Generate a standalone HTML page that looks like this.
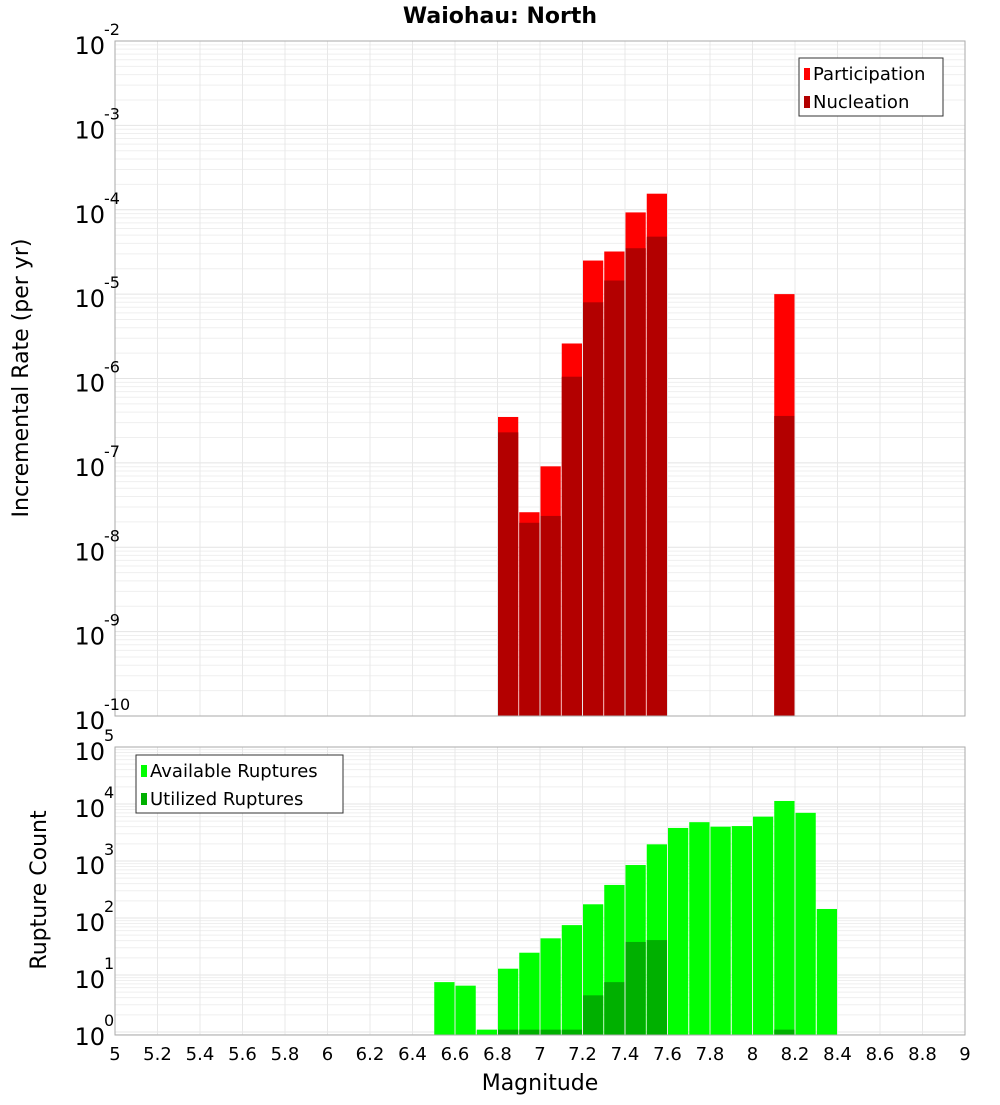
<!DOCTYPE html>
<html><head><meta charset="utf-8"><style>
body{margin:0;background:#fff;font-family:"Liberation Sans","DejaVu Sans",sans-serif}
svg text{font-family:"DejaVu Sans","Liberation Sans",sans-serif}
</style></head><body>
<svg id="c" width="1000" height="1100" xmlns="http://www.w3.org/2000/svg">
<text x="500" y="23" text-anchor="middle" font-size="22" font-weight="bold">Waiohau: North</text>
<text transform="translate(28,378) rotate(-90)" text-anchor="middle" font-size="22">Incremental Rate (per yr)</text>
<text transform="translate(46,890) rotate(-90)" text-anchor="middle" font-size="22">Rupture Count</text>
<text x="540" y="1090" text-anchor="middle" font-size="22">Magnitude</text>
<g id="g"></g>
</svg>
<script>
const topMags=[6.8,6.9,7.0,7.1,7.2,7.3,7.4,7.5,8.1];
const participation=[3.5e-7,2.6e-8,9.1e-8,2.6e-6,2.5e-5,3.2e-5,9.3e-5,1.55e-4,1.0e-5];
const nucleation=[2.3e-7,1.95e-8,2.35e-8,1.05e-6,8.0e-6,1.45e-5,3.5e-5,4.8e-5,3.6e-7];
const botMags=[6.5,6.6,6.7,6.8,6.9,7.0,7.1,7.2,7.3,7.4,7.5,7.6,7.7,7.8,7.9,8.0,8.1,8.2,8.3];
const available=[7.5,6.5,1.1,12.9,24.6,44,75,174,380,850,1960,3800,4800,4000,4100,6000,11300,7000,144];
const utilMags=[6.8,6.9,7.0,7.1,7.2,7.3,7.4,7.5,8.1];
const utilized=[1.1,1.1,1.1,1.1,4.4,7.5,38,41,1.1];
const xTicks=["5","5.2","5.4","5.6","5.8","6","6.2","6.4","6.6","6.8","7","7.2","7.4","7.6","7.8","8","8.2","8.4","8.6","8.8","9"];
const topExp=[-2,-3,-4,-5,-6,-7,-8,-9,-10];
const botExp=[5,4,3,2,1,0];

const NS="http://www.w3.org/2000/svg",G=document.getElementById('g');
function el(t,a){const e=document.createElementNS(NS,t);for(const k in a)e.setAttribute(k,a[k]);G.appendChild(e);return e;}
const X0=115,X1=965;
const xs=m=>X0+(m-5)*(X1-X0)/4;
const T0=41,T1=716;const yT=v=>T0+(-2-Math.log10(v))*(T1-T0)/8;
const B0=747,B1=1035;const yB=v=>1032-57*Math.log10(v);

function panel(top,bot,ys,exps,minLo,name){
  const bg=el('rect',{x:X0,y:top,width:X1-X0,height:bot-top,fill:'#fff'});
  
  
  for(const e of exps){for(let k=1;k<10;k++){const y=ys(k*Math.pow(10,e));if(y<top||y>bot)continue;
    const l=el('line',{x1:X0,x2:X1,y1:y,y2:y,stroke:k==1?'#e4e4e4':'#efefef','stroke-width':1});
    
    }}
  for(let i=0;i<xTicks.length;i++){const x=xs(+xTicks[i]);
    const l=el('line',{x1:x,x2:x,y1:top,y2:bot,stroke:'#e8e8e8'});
    
    }
}
function frame(top,bot,name){const r=el('rect',{x:X0,y:top,width:X1-X0,height:bot-top,fill:'none',stroke:'#aaa'});
  
  }
function bar(m,v,ys,top,bot,fill,name){let y=Math.max(ys(v),top);const x=xs(m);
  const r=el('rect',{x:x+0.5,y:y,width:(X1-X0)/40-1,height:bot-y,fill:fill});
  
  }
function ylab(y,e,name){const t=el('text',{x:105,y:y+13,'text-anchor':'end','font-size':24});
  t.textContent='10';
  const s=el('text',{x:104,y:y-6,'font-size':16});s.textContent=String(e);
  }

panel(T0,T1,yT,[-2,-3,-4,-5,-6,-7,-8,-9,-10],0,'top');
topMags.forEach((m,i)=>bar(m,participation[i],yT,T0,T1,'#ff0000','participation-bar-'+m));
topMags.forEach((m,i)=>bar(m,nucleation[i],yT,T0,T1,'#b30000','nucleation-bar-'+m));
frame(T0,T1,'top');
topExp.forEach(e=>ylab(yT(Math.pow(10,e)),e,'top-y-tick-'+e));

panel(B0,B1,yB,[4,3,2,1,0,-1],0,'bottom');
botMags.forEach((m,i)=>bar(m,available[i],yB,B0,B1,'#00ff00','available-bar-'+m));
utilMags.forEach((m,i)=>bar(m,utilized[i],yB,B0,B1,'#00b000','utilized-bar-'+m));
frame(B0,B1,'bottom');
botExp.forEach(e=>ylab(yB(Math.pow(10,e)),e,'bottom-y-tick-'+e));

xTicks.forEach(t=>{const x=el('text',{x:xs(+t),y:1060,'text-anchor':'middle','font-size':18});x.textContent=t;
  });

function legend(x,y,w,items,name){const r=el('rect',{x:x,y:y,width:w,height:58,fill:'#fff',stroke:'#333'});
  
  items.forEach((it,i)=>{const s=el('rect',{x:x+5,y:y+10+i*28,width:6,height:12,fill:it[1]});
    
    const t=el('text',{x:x+14,y:y+22+i*28,'font-size':18});t.textContent=it[0];
    });}
legend(799,58,144,[['Participation','#ff0000'],['Nucleation','#b30000']],'top-legend');
legend(136,755,207,[['Available Ruptures','#00ff00'],['Utilized Ruptures','#00b000']],'bottom-legend');
</script>
</body></html>
